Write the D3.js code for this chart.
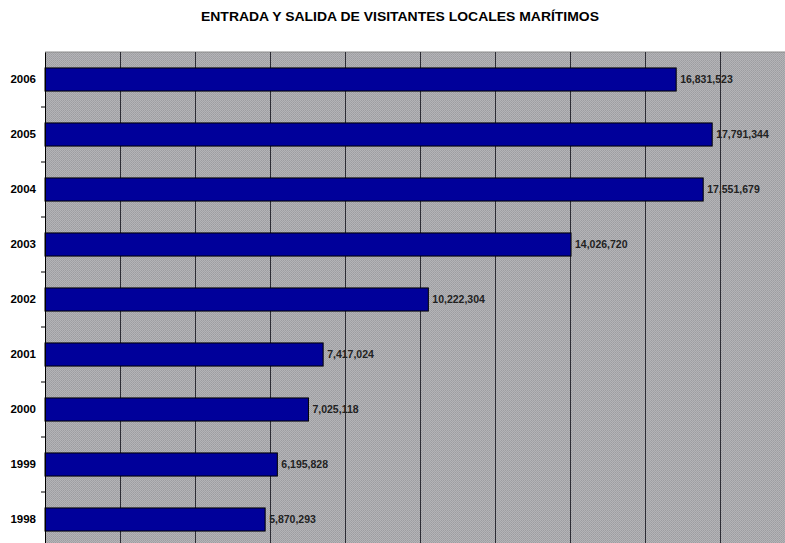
<!DOCTYPE html>
<html>
<head>
<meta charset="utf-8">
<script src="https://cdn.jsdelivr.net/npm/d3@7"></script>
<style>
  body { margin: 0; background: #fff; }
  svg { display: block; }
</style>
</head>
<body>
<script>
// data
const years = ["2006", "2005", "2004", "2003", "2002", "2001", "2000", "1999", "1998"];
const visitors = [16831523, 17791344, 17551679, 14026720, 10222304, 7417024, 7025118, 6195828, 5870293];
const xTicks = [0, 2000000, 4000000, 6000000, 8000000, 10000000, 12000000, 14000000, 16000000, 18000000, 20000000];
const title = "ENTRADA Y SALIDA DE VISITANTES LOCALES MARÍTIMOS";

let margin = null,
    width = null,
    height = null;

let svg = null, root = null;
let x, y = null;

setupCanvasSize();
appendSvg("body");
setupXScale();
setupYScale();
appendBackground();
appendGrid();
appendBars();
appendYAxis();
appendTitle();

function setupCanvasSize() {
  margin = {top: 52, left: 45, bottom: 0, right: 0};
  width = 750;
  height = 495;
}

function appendSvg(domElement) {
  root = d3.select(domElement).append("svg")
    .attr("width", 785)
    .attr("height", 543);
  svg = root.append("g")
    .attr("transform", `translate(${margin.left}, ${margin.top})`);
}

function setupXScale() {
  x = d3.scaleLinear()
    .domain([0, 20000000])
    .range([0, width]);
}

function setupYScale() {
  y = d3.scaleBand()
    .domain(years)
    .range([0, height])
    .paddingInner(0.58)
    .paddingOuter(0.29);
}

// grey checker stipple, like the scan
function appendBackground() {
  const defs = root.append("defs");
  const pat = defs.append("pattern")
    .attr("id", "stipple")
    .attr("width", 2)
    .attr("height", 2)
    .attr("patternUnits", "userSpaceOnUse");
  pat.append("rect").attr("width", 2).attr("height", 2).attr("fill", "#b4b4b7");
  pat.append("rect").attr("width", 1).attr("height", 1).attr("fill", "#9d9da1");
  pat.append("rect").attr("x", 1).attr("y", 1).attr("width", 1).attr("height", 1).attr("fill", "#a3a3a7");

  svg.append("rect")
    .attr("width", width)
    .attr("height", height)
    .attr("fill", "url(#stipple)");

  svg.append("line")
    .attr("x1", 0).attr("x2", width)
    .attr("y1", 0).attr("y2", 0)
    .attr("stroke", "#8a8a8a");
}

function appendGrid() {
  svg.append("g")
    .selectAll("line")
    .data(xTicks.slice(1))
    .join("line")
    .attr("x1", d => x(d) + 0.5)
    .attr("x2", d => x(d) + 0.5)
    .attr("y1", 0)
    .attr("y2", height)
    .attr("stroke", "#2c2c34")
    .attr("stroke-width", 1);
}

function appendBars() {
  svg.selectAll(".bar")
    .data(visitors)
    .join("rect")
    .attr("class", "bar")
    .attr("x", 0)
    .attr("y", (d, i) => y(years[i]))
    .attr("width", d => x(d))
    .attr("height", y.bandwidth())
    .attr("fill", "#00009a")
    .attr("stroke", "#000")
    .attr("stroke-width", 1);

  svg.selectAll(".val")
    .data(visitors)
    .join("text")
    .attr("class", "val")
    .attr("x", d => x(d) + 4)
    .attr("y", (d, i) => y(years[i]) + y.bandwidth() / 2)
    .attr("dy", "0.35em")
    .style("font-family", "Arial, 'Liberation Sans', sans-serif")
    .style("font-size", "10.5px")
    .style("font-weight", "bold")
    .attr("fill", "#222")
    .text(d => d3.format(",")(d));
}

function appendYAxis() {
  const axis = svg.append("g")
    .call(d3.axisLeft(y).tickSize(0).tickPadding(9));
  axis.select(".domain").attr("stroke", "#000");
  axis.selectAll("text")
    .style("font-family", "Arial, 'Liberation Sans', sans-serif")
    .style("font-size", "11.5px")
    .style("font-weight", "bold")
    .attr("fill", "#000");

  // small ticks between categories
  const bounds = years.slice(1).map(d => y(d) - y.step() * y.paddingInner() / 2);
  svg.append("g")
    .selectAll("line")
    .data(bounds)
    .join("line")
    .attr("x1", -4).attr("x2", 0)
    .attr("y1", d => d).attr("y2", d => d)
    .attr("stroke", "#000");
}

function appendTitle() {
  root.append("text")
    .attr("x", 400)
    .attr("y", 21)
    .attr("text-anchor", "middle")
    .attr("textLength", 398)
    .attr("lengthAdjust", "spacingAndGlyphs")
    .style("font-family", "Arial, 'Liberation Sans', sans-serif")
    .style("font-size", "13px")
    .style("font-weight", "bold")
    .text(title);
}
</script>
</body>
</html>
